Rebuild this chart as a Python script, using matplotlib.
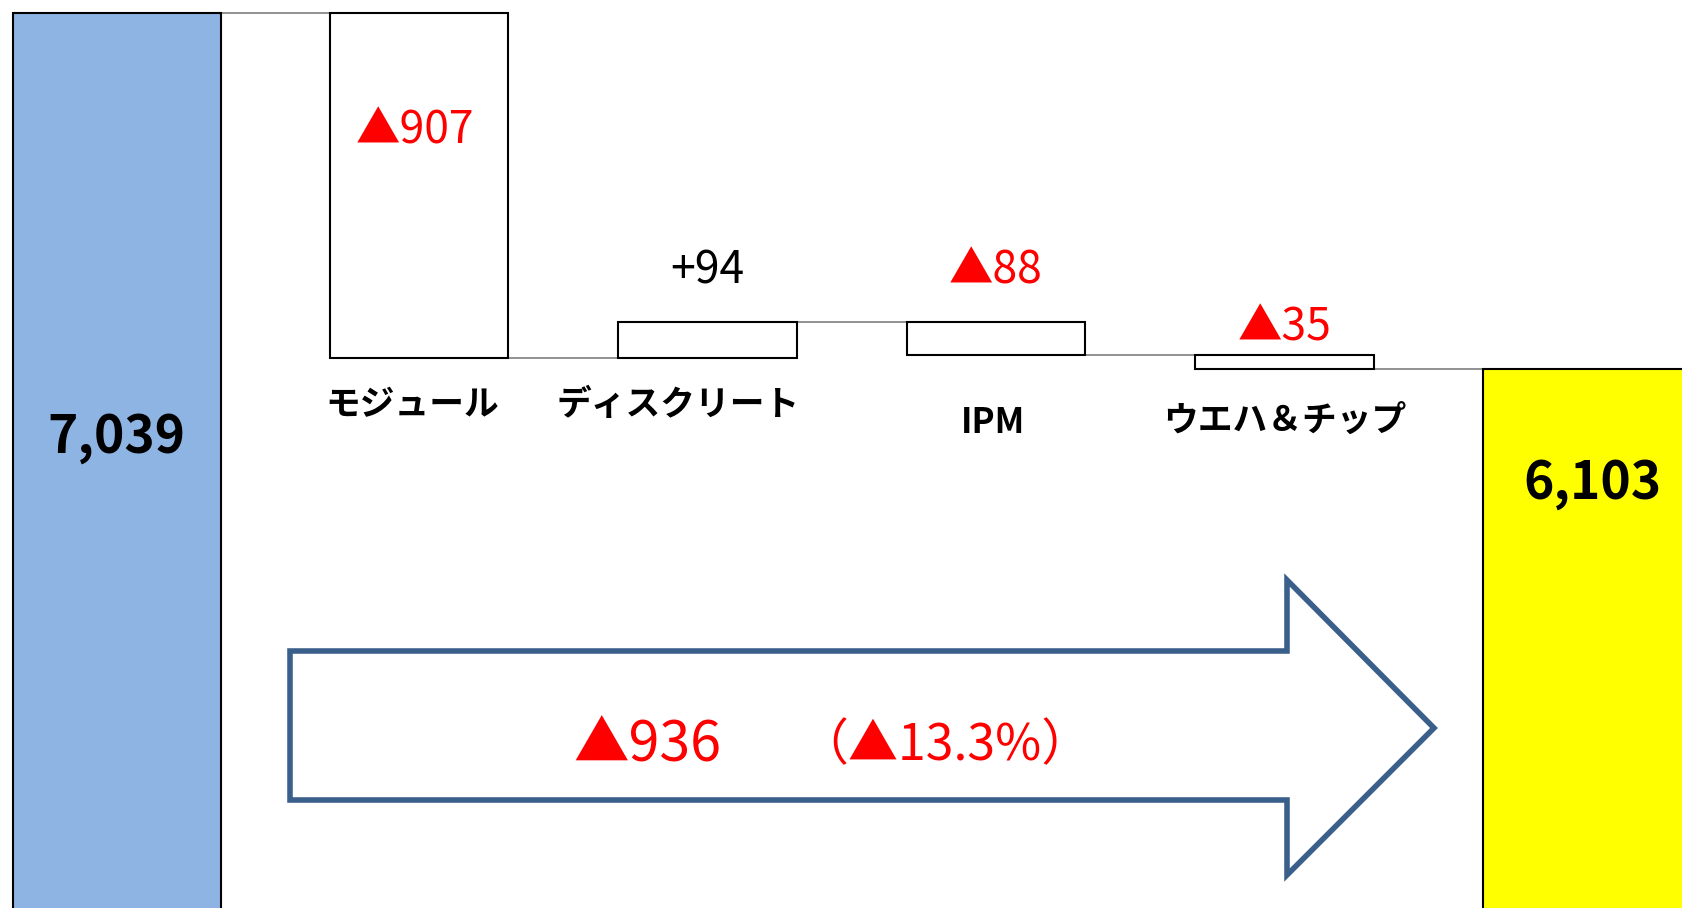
"""
Waterfall chart: sales bridge by product segment
"""

import matplotlib
matplotlib.use('Agg')
import matplotlib.pyplot as plt
from matplotlib.patches import Polygon

plt.rcParams['font.family'] = ['Noto Sans CJK JP', 'DejaVu Sans']

# Data
categories = ['モジュール', 'ディスクリート', 'IPM', 'ウエハ＆チップ']
start_value = 7039
changes = [-907, 94, -88, -35]
end_value = 6103

# Layout (figure is 1683x908 px)
W, H = 1683, 908
fig = plt.figure(figsize=(W / 100, H / 100), dpi=100)
ax = fig.add_axes([0, 0, 1, 1])
ax.set_xlim(-0.452, 5.381)
ax.set_ylim(4684, 7073)
ax.axis('off')

EDGE = 'black'
LW = 1.5

# start / end bars
end_x = [-0.047, len(changes) + 1.048]
ax.bar(end_x[0], start_value, width=0.72, bottom=0, color='#8EB4E3',
       edgecolor=EDGE, linewidth=LW, zorder=3)
ax.bar(end_x[1], end_value, width=0.72, bottom=0, color='#FFFF00',
       edgecolor=EDGE, linewidth=LW, zorder=3)

# floating bars
levels = [start_value]
for d in changes:
    levels.append(levels[-1] + d)

xs = list(range(1, len(changes) + 1))
bottoms = [min(levels[i], levels[i + 1]) for i in range(len(changes))]
heights = [abs(d) for d in changes]
ax.bar(xs, heights, width=0.62, bottom=bottoms, color='white',
       edgecolor=EDGE, linewidth=LW, zorder=3)

# connector lines
left_edges = [end_x[0] + 0.36] + [x + 0.31 for x in xs]
right_edges = [x - 0.31 for x in xs] + [end_x[1] - 0.36]
for i, lvl in enumerate(levels):
    ax.plot([left_edges[i], right_edges[i]], [lvl, lvl], color='#7F7F7F',
            linewidth=1.2, zorder=2)

# labels for changes
value_offsets = [-85, 37, 37, 20]
cat_offsets = [(-5, -34), (-21, -34), (-2, -48), (0, -37)]
for x, d, b, h, vo, co, cat in zip(xs, changes, bottoms, heights,
                                    value_offsets, cat_offsets, categories):
    txt = f'▲{abs(d):,}' if d < 0 else f'+{d:,}'
    col = 'red' if d < 0 else 'black'
    ax.annotate(txt, (x, b + h), xytext=(-3 if vo < 0 else 0, vo),
                textcoords='offset points', ha='center', va='center',
                fontsize=32, color=col, zorder=5)
    ax.annotate(cat, (x, b), xytext=co, textcoords='offset points',
                ha='center', va='center', fontsize=25, fontweight='bold',
                color='black', zorder=5)

# totals
ax.annotate(f'{start_value:,}', (end_x[0], 1 - 438 / H),
            xycoords=('data', 'axes fraction'), ha='center', va='center',
            fontsize=37, fontweight='bold', zorder=5)
ax.annotate(f'{end_value:,}', (end_x[1], 1 - 483 / H),
            xycoords=('data', 'axes fraction'), xytext=(4, 0),
            textcoords='offset points', ha='center', va='center',
            fontsize=37, fontweight='bold', zorder=5)

# big arrow
arrow_px = [(290, 651), (1287, 651), (1287, 580), (1434, 728),
            (1287, 875), (1287, 800), (290, 800)]
arrow_pts = [(x / W, 1 - y / H) for x, y in arrow_px]
fig.patches.append(Polygon(arrow_pts, closed=True, transform=fig.transFigure,
                           facecolor='white', edgecolor='#3A5F8B',
                           linewidth=4, joinstyle='miter', zorder=4))

diff = end_value - start_value
pct = diff / start_value * 100
fig.text(647 / W, 1 - 746 / H, f'▲{abs(diff):,}', ha='center', va='center',
         fontsize=40, color='red', zorder=6)
fig.text(945 / W, 1 - 746 / H, f'（▲{abs(pct):.1f}%）', ha='center',
         va='center', fontsize=36, color='red', zorder=6)

plt.savefig('out.png', dpi=100)
plt.close()
